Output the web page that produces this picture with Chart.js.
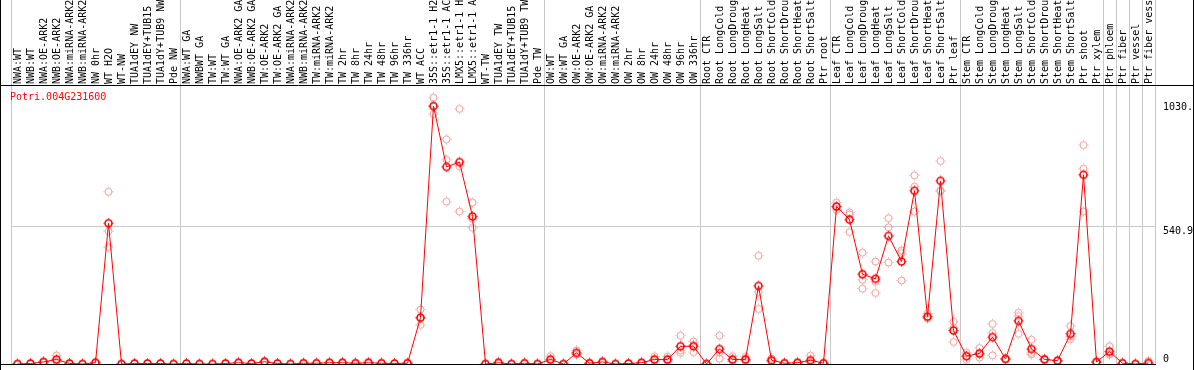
<!DOCTYPE html>
<html>
<head>
<meta charset="utf-8">
<script src="https://cdn.jsdelivr.net/npm/chart.js@4.4.1/dist/chart.umd.min.js"></script>
<style>
  html, body { margin: 0; padding: 0; background: #fff; }
  #wrap { width: 1194px; height: 370px; }
</style>
</head>
<body>
<div id="wrap"><canvas id="chart" width="1194" height="370"></canvas></div>
<script>
// Gen und Proben
const GENE = 'Potri.004G231600';

const samples = [
  'NWA:WT', 'NWB:WT', 'NWA:OE-ARK2', 'NWB:OE-ARK2', 'NWA:miRNA-ARK2', 'NWB:miRNA-ARK2',
  'NW 0hr', 'WT H2O', 'WT-NW', 'TUA1dEY NW', 'TUA1dEY+TUB15', 'TUA1dY+TUB9 NW', 'Pde NW',
  'NWA:WT GA', 'NWBWT GA', 'TW:WT', 'TW:WT GA', 'NWA:OE-ARK2 GA', 'NWB:OE-ARK2 GA',
  'TW:OE-ARK2', 'TW:OE-ARK2 GA', 'NWA:miRNA-ARK2', 'NWB:miRNA-ARK2', 'TW:miRNA-ARK2',
  'TW:miRNA-ARK2', 'TW 2hr', 'TW 8hr', 'TW 24hr', 'TW 48hr', 'TW 96hr', 'TW 336hr',
  'WT ACC', '35S::etr1-1 H2', '35S::etr1-1 AC', 'LMX5::etr1-1 H', 'LMX5::etr1-1 A',
  'WT-TW', 'TUA1dEY TW', 'TUA1dEY+TUB15', 'TUA1dY+TUB9 TW', 'Pde TW',
  'OW:WT', 'OW:WT GA', 'OW:OE-ARK2', 'OW:OE-ARK2 GA', 'OW:miRNA-ARK2', 'OW:miRNA-ARK2',
  'OW 2hr', 'OW 8hr', 'OW 24hr', 'OW 48hr', 'OW 96hr', 'OW 336hr',
  'Root CTR', 'Root LongCold', 'Root LongDroug', 'Root LongHeat', 'Root LongSalt',
  'Root ShortCold', 'Root ShortDrou', 'Root ShortHeat', 'Root ShortSalt', 'Ptr root',
  'Leaf CTR', 'Leaf LongCold', 'Leaf LongDroug', 'Leaf LongHeat', 'Leaf LongSalt',
  'Leaf ShortCold', 'Leaf ShortDrou', 'Leaf ShortHeat', 'Leaf ShortSalt', 'Ptr leaf',
  'Stem CTR', 'Stem LongCold', 'Stem LongDroug', 'Stem LongHeat', 'Stem LongSalt',
  'Stem ShortCold', 'Stem ShortDrou', 'Stem ShortHeat', 'Stem ShortSalt', 'Ptr shoot', 'Ptr xylem',
  'Ptr phloem', 'Ptr fiber', 'Ptr vessel', 'Ptr fiber vess'
];

// erste Probe jeder Gruppe (+ Ende)
const groupStarts = [0, 13, 41, 53, 63, 73, 84, 85, 86, 87, 88];

const means = [
  0, 2, 8, 18, 2, 0, 5, 555, 0, 2, 2, 2, 0,
  2, 0, 0, 2, 5, 2, 9, 2, 0, 3, 3, 5, 5, 3, 5, 3, 2, 3,
  183, 1017, 777, 796, 582, 0, 5, 0, 3, 0,
  18, 0, 44, 3, 8, 0, 2, 5, 18, 18, 70, 70,
  0, 59, 18, 18, 308, 15, 3, 5, 15, 3,
  621, 569, 354, 336, 505, 404, 683, 187, 722, 132,
  31, 42, 106, 20, 170, 59, 18, 13, 119, 746, 8,
  49, 3, 0, 4
];

const rep1 = [
  0, 0, 5, 34, 0, 0, 3, 679, 0, 1, 1, 1, 0,
  1, 0, 0, 1, 3, 1, 6, 1, 0, 2, 2, 3, 3, 2, 3, 2, 1, 2,
  215, 1050, 886, 1006, 636, 0, 9, 0, 2, 0,
  31, 0, 54, 2, 5, 0, 1, 3, 30, 30, 112, 89,
  0, 112, 31, 28, 427, 22, 2, 3, 33, 2,
  636, 598, 439, 404, 575, 448, 744, 199, 800, 167,
  44, 63, 158, 22, 202, 96, 20, 14, 150, 863, 5,
  70, 2, 0, 12
];

const rep2 = [
  0, 3, 10, 12, 3, 0, 8, 524, 0, 3, 3, 3, 0,
  3, 0, 0, 3, 7, 3, 12, 3, 0, 4, 4, 7, 8, 4, 8, 4, 3, 4,
  154, 985, 805, 780, 573, 0, 3, 0, 4, 0,
  12, 0, 40, 4, 11, 0, 3, 7, 12, 13, 44, 47,
  0, 21, 12, 14, 284, 12, 4, 7, 7, 4,
  608, 520, 332, 280, 539, 329, 699, 180, 685, 87,
  17, 25, 122, 18, 189, 44, 17, 12, 98, 770, 10,
  38, 4, 0, 0
];

const rep3 = [
  0, 2, 9, 8, 2, 0, 4, 461, 0, 2, 2, 2, 0,
  2, 0, 0, 2, 5, 2, 9, 2, 0, 3, 3, 5, 4, 3, 4, 3, 2, 3,
  180, 1016, 640, 601, 537, 0, 3, 0, 3, 0,
  11, 0, 38, 3, 8, 0, 2, 5, 12, 11, 54, 75,
  0, 46, 11, 12, 217, 11, 3, 5, 5, 3,
  619, 589, 297, 324, 400, 438, 601, 182, 681, 142,
  32, 38, 34, 20, 119, 38, 17, 13, 109, 601, 9,
  39, 3, 0, 0
];

// Werte der y-Achse: 0, Mitte, Maximum
const yTicks = [0, 540.9, 1030.3];
const Y_MAX = 1096;

const FONT = '10px "DejaVu Sans Mono", "Liberation Mono", monospace';
const GRID = '#c8c8c8';
const RED = '#ff0000';
const PINK = '#ef9a9a';

// Kreis mit kleinen Strichen als Marker
function ringMarker(color, lw) {
  const c = document.createElement('canvas');
  c.width = 13;
  c.height = 13;
  const g = c.getContext('2d');
  g.strokeStyle = color;
  g.lineWidth = lw;
  g.beginPath();
  g.arc(6.5, 6.5, 3.5, 0, Math.PI * 2);
  g.stroke();
  g.lineWidth = 1;
  g.beginPath();
  g.moveTo(6.5, 1.5); g.lineTo(6.5, 2.5);
  g.moveTo(6.5, 10.5); g.lineTo(6.5, 11.5);
  g.moveTo(1.5, 6.5); g.lineTo(2.5, 6.5);
  g.moveTo(10.5, 6.5); g.lineTo(11.5, 6.5);
  g.stroke();
  return c;
}

const meanMarker = ringMarker(RED, 1.6);
const repMarker = ringMarker(PINK, 1);

// Rahmen, Titel und Beschriftung der y-Achse
const framePlugin = {
  id: 'frame',
  afterDraw(chart) {
    const ctx = chart.ctx;
    const area = chart.chartArea;
    const y = chart.scales.y;
    ctx.save();
    ctx.strokeStyle = '#000';
    ctx.lineWidth = 1;
    ctx.beginPath();
    ctx.moveTo(0.5, 0); ctx.lineTo(0.5, chart.height);
    ctx.moveTo(chart.width - 0.5, 0); ctx.lineTo(chart.width - 0.5, chart.height);
    ctx.moveTo(0, area.top - 0.5); ctx.lineTo(chart.width, area.top - 0.5);
    ctx.moveTo(0, area.bottom + 0.5); ctx.lineTo(area.right + 1, area.bottom + 0.5);
    ctx.stroke();

    ctx.font = FONT;
    ctx.fillStyle = RED;
    ctx.textAlign = 'left';
    ctx.textBaseline = 'middle';
    ctx.fillText(GENE, 10, area.top + 11);

    ctx.fillStyle = '#000';
    y.ticks.forEach(t => {
      const py = y.getPixelForValue(t.value);
      const txt = String(t.value).slice(0, 5);
      ctx.textBaseline = t.value === 0 ? 'bottom' : 'top';
      ctx.fillText(txt, area.right + 8, py);
    });
    ctx.restore();
  }
};

function repSet(data) {
  return {
    data: data,
    showLine: false,
    pointStyle: repMarker,
    pointRadius: 5,
    clip: 0
  };
}

const chart = new Chart(document.getElementById('chart'), {
  type: 'line',
  data: {
    labels: samples,
    datasets: [{
      label: 'mean',
      data: means,
      borderColor: RED,
      borderWidth: 1,
      pointStyle: meanMarker,
      pointRadius: 5,
      tension: 0,
      fill: false,
      clip: 0
    }, repSet(rep1), repSet(rep2), repSet(rep3)]
  },
  options: {
    responsive: false,
    animation: false,
    devicePixelRatio: 1,
    events: [],
    layout: { padding: { left: 11, right: 0, top: 0, bottom: 2 } },
    plugins: {
      legend: { display: false },
      tooltip: { enabled: false }
    },
    scales: {
      x: {
        position: 'top',
        offset: true,
        border: { display: false },
        grid: {
          offset: true,
          tickLength: 86,
          lineWidth: 1,
          color: ctx => (ctx.index === undefined || groupStarts.includes(ctx.index)) ? GRID : 'rgba(0,0,0,0)'
        },
        ticks: {
          autoSkip: false,
          minRotation: 90,
          maxRotation: 90,
          padding: -84,
          labelOffset: 13,
          color: '#000',
          font: { family: '"DejaVu Sans Mono", "Liberation Mono", monospace', size: 10 }
        },
        afterFit: s => { s.height = 86; }
      },
      y: {
        position: 'right',
        min: 0,
        max: Y_MAX,
        border: { display: false },
        afterBuildTicks: s => { s.ticks = yTicks.map(v => ({ value: v })); },
        grid: {
          drawTicks: false,
          color: ctx => (ctx.tick && ctx.tick.value === 540.9) ? GRID : 'rgba(0,0,0,0)'
        },
        ticks: { display: false },
        afterFit: s => { s.width = 39; }
      }
    }
  },
  plugins: [framePlugin]
});
</script>
</body>
</html>
